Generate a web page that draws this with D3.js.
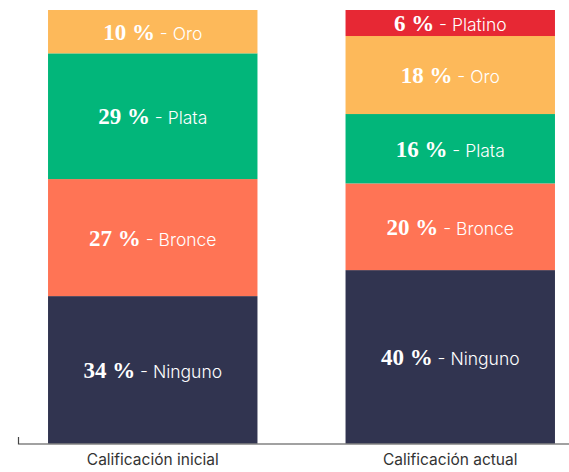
<!DOCTYPE html>
<html lang="es">
<head>
<meta charset="utf-8">
<script src="https://cdn.jsdelivr.net/npm/d3@7"></script>
<style>
  html, body { margin: 0; padding: 0; background: #fff; }
  svg { display: block; }
</style>
</head>
<body>
<svg id="chart" width="569" height="472"></svg>
<script>
// Categories (one stacked bar each)
const categories = ["Calificación inicial", "Calificación actual"];

// Levels, bottom to top
const levels = ["Ninguno", "Bronce", "Plata", "Oro", "Platino"];

// Share of each level (%) per category
const ninguno = [34, 40];
const bronce  = [27, 20];
const plata   = [29, 16];
const oro     = [10, 18];
const platino = [0, 6];

const levelColors = ["#313450", "#FF7455", "#02B67A", "#FDB95A", "#E72834"];

const width = 569, height = 472;
const svg = d3.select("#chart");

const rows = categories.map((c, i) => ({
  category: c,
  Ninguno: ninguno[i],
  Bronce: bronce[i],
  Plata: plata[i],
  Oro: oro[i],
  Platino: platino[i]
}));

const stack = d3.stack().keys(levels);
const series = stack(rows);

const x = d3.scaleBand()
  .domain(categories)
  .range([4, 599])
  .paddingInner(0.296)
  .paddingOuter(0.148);

const y = d3.scaleLinear().domain([0, 100]).range([443.5, 10]);

const color = d3.scaleOrdinal().domain(levels).range(levelColors);

const groups = svg.append("g").selectAll("g")
  .data(series)
  .join("g")
  .attr("fill", d => color(d.key));

groups.selectAll("rect")
  .data(d => d.map(p => ({ key: d.key, p })))
  .join("rect")
  .filter(d => d.p[1] - d.p[0] > 0)
  .attr("x", d => x(d.p.data.category))
  .attr("y", d => y(d.p[1]))
  .attr("width", x.bandwidth())
  .attr("height", d => y(d.p[0]) - y(d.p[1]));

// Segment labels: bold serif figure + sans level name
const labels = svg.append("g").selectAll("text")
  .data(series.flatMap(s => s.map(p => ({ key: s.key, p })))
    .filter(d => d.p[1] - d.p[0] > 0))
  .join("text")
  .attr("x", d => x(d.p.data.category) + x.bandwidth() / 2)
  .attr("y", d => (y(d.p[0]) + y(d.p[1])) / 2 + 8)
  .attr("text-anchor", "middle")
  .attr("fill", "#fff");

labels.append("tspan")
  .attr("font-family", "'Liberation Serif', 'DejaVu Serif', serif")
  .attr("font-weight", "bold")
  .attr("font-size", 23)
  .text(d => `${d.p[1] - d.p[0]} %`);

labels.append("tspan")
  .attr("font-family", "Inter, 'Noto Sans', sans-serif")
  .attr("font-weight", 300)
  .attr("font-size", 17.5)
  .text(d => ` - ${d.key}`);

// Baseline axis
const axis = svg.append("g")
  .attr("transform", `translate(0,${y(0)})`)
  .call(d3.axisBottom(x).tickSize(0).tickPadding(10));

axis.select(".domain").remove();
axis.selectAll("text")
  .attr("font-family", "Inter, 'Noto Sans', sans-serif")
  .attr("font-weight", 400)
  .attr("font-size", 15.5)
  .attr("fill", "#333");

svg.append("path")
  .attr("d", `M18.5,${y(0) - 6.5}V${y(0) + 0.5}H${width}`)
  .attr("fill", "none")
  .attr("stroke", "#444")
  .attr("stroke-width", 1.2);
</script>
</body>
</html>
